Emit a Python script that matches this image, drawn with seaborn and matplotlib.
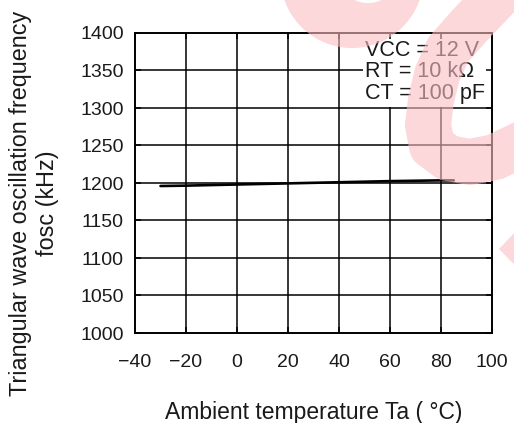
import numpy as np
import pandas as pd
import matplotlib
matplotlib.use("Agg")
import matplotlib.pyplot as plt
import seaborn as sns
from matplotlib.path import Path
from matplotlib.patches import Rectangle

# Oscillation frequency vs. ambient temperature
temperature = [-30, -20, 0, 20, 40, 60, 80, 85]
frequency = [1196, 1196.5, 1198, 1199.5, 1201, 1202.5, 1203.5, 1203.5]

x_ticks = [-40, -20, 0, 20, 40, 60, 80, 100]
y_ticks = [1000, 1050, 1100, 1150, 1200, 1250, 1300, 1350, 1400]
conditions = ["VCC = 12 V", "RT = 10 k\u03a9", "CT = 100 pF"]

x_label = "Ambient temperature Ta ( \u00b0C)"
y_label = "Triangular wave oscillation frequency\nfosc (kHz)"

sns.set_style("ticks")
plt.rcParams["font.family"] = ["Liberation Sans", "DejaVu Sans"]
plt.rcParams["axes.unicode_minus"] = True

W, H = 514, 423
fig = plt.figure(figsize=(W / 100, H / 100), dpi=100)
fig.patch.set_facecolor("white")
ax = fig.add_axes([135 / W, (H - 333) / H, 357 / W, 300 / H])

df = pd.DataFrame({"Ta": temperature, "fosc": frequency})
sns.lineplot(data=df, x="Ta", y="fosc", ax=ax, color="black",
             linewidth=1.9, zorder=4)

ax.set_xlim(x_ticks[0], x_ticks[-1])
ax.set_ylim(y_ticks[0], y_ticks[-1])
ax.set_xticks(x_ticks)
ax.set_yticks(y_ticks)

# grid drawn under the condition box
for xv in x_ticks[1:-1]:
    ax.axvline(xv, color="black", linewidth=1.1, zorder=0.8)
for yv in y_ticks[1:-1]:
    ax.axhline(yv, color="black", linewidth=1.1, zorder=0.8)

# white box holding the test conditions
ax.add_patch(Rectangle((49.5, 1301.5), 50.5, 98.5, transform=ax.transData,
                       facecolor="white", edgecolor="none", zorder=1))
ax.set_axisbelow("line")

for i, txt in enumerate(conditions):
    ax.text(0.644, 0.943 - i * 0.0715, txt, transform=ax.transAxes,
            fontsize=15.5, color="#1a1a1a", ha="left", va="center", zorder=5)

for s in ax.spines.values():
    s.set_color("black")
    s.set_linewidth(1.4)
    s.set_zorder(6)

ax.tick_params(direction="in", length=4, width=1.1, colors="black",
               top=True, right=True, labelsize=14, labelcolor="#1a1a1a")
ax.tick_params(axis="x", pad=15)
ax.tick_params(axis="y", pad=8)

ax.set_xlabel(x_label, fontsize=16.5, color="#1a1a1a", labelpad=22)
ax.set_ylabel(y_label, fontsize=16.8, color="#1a1a1a", linespacing=1.22)
ax.yaxis.set_label_coords(-0.212, 0.433)

# translucent red logo stroke across the upper right
ss = 3
ys, xs = np.mgrid[0:H * ss, 0:W * ss]
px = (xs + 0.5) / ss
py = (ys + 0.5) / ss

outer = ((px - 352) / 72) ** 2 + ((py + 25) / 73) ** 2 <= 1
inner = ((px - 368) / 30) ** 2 + ((py + 25) / 28) ** 2 <= 1
mask = outer & ~inner

stroke = [(520, -30), (494, 0), (470, 25), (448, 50), (437, 75), (431, 100),
          (428, 125), (432, 146), (448, 158), (470, 162), (495, 157), (522, 144)]
dmin = np.full(px.shape, np.inf)
for (x0, y0), (x1, y1) in zip(stroke[:-1], stroke[1:]):
    dx, dy = x1 - x0, y1 - y0
    t = np.clip(((px - x0) * dx + (py - y0) * dy) / (dx * dx + dy * dy), 0, 1)
    d = np.hypot(px - (x0 + t * dx), py - (y0 + t * dy))
    dmin = np.minimum(dmin, d)
mask |= dmin <= 23

tri = Path([(499, 249), (518, 229), (518, 268), (499, 249)])
pts = np.column_stack([px.ravel(), py.ravel()])
mask |= tri.contains_points(pts).reshape(px.shape)

cover = mask.reshape(H, ss, W, ss).mean(axis=(1, 3))
rgba = np.zeros((H, W, 4))
rgba[..., 0] = 250 / 255
rgba[..., 1] = 190 / 255
rgba[..., 2] = 195 / 255
rgba[..., 3] = 0.6 * cover
fig.figimage(rgba, xo=0, yo=0, origin="upper", zorder=10)

fig.savefig("out.png", dpi=100)
